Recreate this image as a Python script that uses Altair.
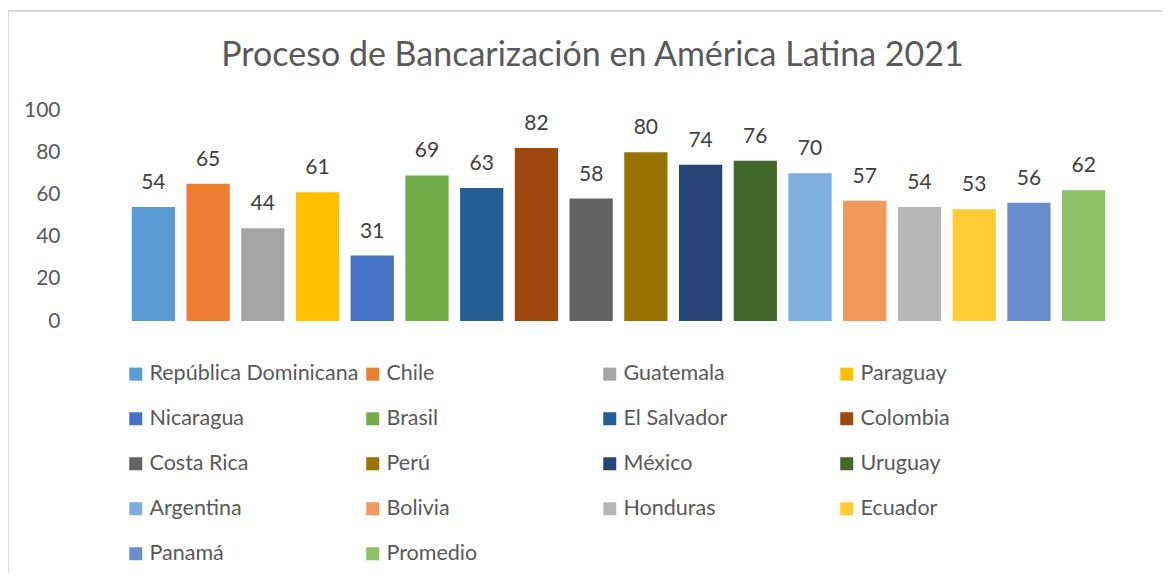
import altair as alt
import pandas as pd

countries = ["República Dominicana", "Chile", "Guatemala", "Paraguay", "Nicaragua",
             "Brasil", "El Salvador", "Colombia", "Costa Rica", "Perú", "México",
             "Uruguay", "Argentina", "Bolivia", "Honduras", "Ecuador", "Panamá", "Promedio"]
values = [54, 65, 44, 61, 31, 69, 63, 82, 58, 80, 74, 76, 70, 57, 54, 53, 56, 62]
colors = ["#5B9BD5", "#ED7D31", "#A5A5A5", "#FFC000", "#4472C4", "#70AD47",
          "#255E91", "#9E480E", "#636363", "#997300", "#264478", "#43682B",
          "#7CAFDD", "#F1975A", "#B7B7B7", "#FFCD33", "#698ED0", "#8CC168"]
y_ticks = [0, 20, 40, 60, 80, 100]

df = pd.DataFrame({"pais": countries, "valor": values})

FONT = "Lato"
GREY = "#595959"

x_enc = alt.X("pais:N", sort=countries, axis=None,
              scale=alt.Scale(paddingInner=0.21, paddingOuter=0.105))
y_enc = alt.Y("valor:Q", scale=alt.Scale(domain=[0, 100], nice=False),
              axis=alt.Axis(values=y_ticks, title=None, domain=False, ticks=False,
                            grid=False, labelFontSize=21, labelColor=GREY,
                            labelFont=FONT, labelPadding=66))

bars = alt.Chart(df).mark_bar().encode(
    x=x_enc,
    y=y_enc,
    color=alt.Color("pais:N", sort=countries,
                    scale=alt.Scale(domain=countries, range=colors),
                    legend=alt.Legend(title=None, orient="none", legendX=-1, legendY=253,
                                      direction="horizontal",
                                      columns=4, gridAlign="all", symbolType="square",
                                      symbolSize=169, symbolStrokeWidth=0,
                                      labelFontSize=21.5, labelColor=GREY, labelFont=FONT,
                                      labelOffset=3, columnPadding=3, rowPadding=22,
                                      labelLimit=400)),
)

labels = alt.Chart(df).mark_text(fontSize=21, font=FONT, color="#404040",
                                 baseline="alphabetic", dy=-18).encode(
    x=alt.X("pais:N", sort=countries, axis=None),
    y=alt.Y("valor:Q"),
    text=alt.Text("valor:Q"),
)

frame = alt.Chart(pd.DataFrame({"a": [0]})).mark_rect(
    fill=None, stroke="#d9d9d9", strokeWidth=2
).encode(x=alt.value(-118), x2=alt.value(1200), y=alt.value(-99), y2=alt.value(700))

chart = alt.layer(frame, bars, labels).properties(
    width=985, height=211,
    background="white",
    title=alt.Title("Proceso de Bancarización en América Latina 2021",
                    fontSize=34, font=FONT, fontWeight="normal", color=GREY,
                    anchor="middle", frame="group", baseline="alphabetic",
                    dx=-26, offset=-90),
    padding={"left": 118, "top": 102, "right": 52, "bottom": 252},
    autosize="none",
).configure_view(strokeWidth=0, stroke="transparent")

chart.save("out.html", embed_options={"renderer": "svg", "actions": False})
